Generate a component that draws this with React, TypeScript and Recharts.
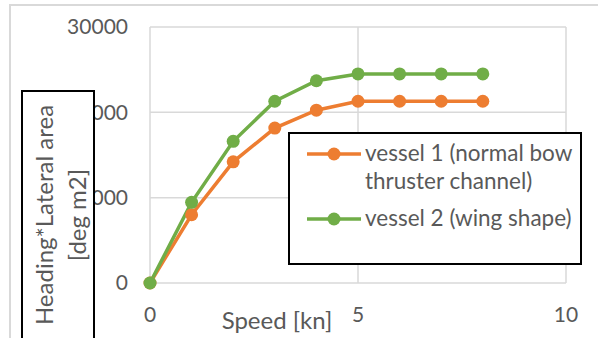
import React from 'react';
import { LineChart, Line, XAxis, YAxis, CartesianGrid, Legend } from 'recharts';

const speeds = [0, 1, 2, 3, 4, 5, 6, 7, 8];
const vessel1 = [0, 8000, 14200, 18150, 20250, 21300, 21300, 21300, 21300];
const vessel2 = [0, 9450, 16600, 21300, 23700, 24500, 24500, 24500, 24500];
const xTicks = [0, 5, 10];
const yTicks = [0, 10000, 20000, 30000];
const seriesNames = ['vessel 1 (normal bow', 'thruster channel)', 'vessel 2 (wing shape)'];
const xLabel = 'Speed [kn]';
const yLabelLines = ['Heading*Lateral area', '[deg m2]'];

const ORANGE = '#ED7D31';
const GREEN = '#70AD47';
const TEXT = '#595959';
const FONT = 'Lato, "Open Sans", sans-serif';

const data = speeds.map((s, i) => ({ speed: s, v1: vessel1[i], v2: vessel2[i] }));

const Marker = ({ color }: { color: string }) => (
  <svg width={56} height={16} style={{ display: 'block' }}>
    <line x1={1} y1={8} x2={55} y2={8} stroke={color} strokeWidth={3.5} />
    <circle cx={28} cy={8} r={6.5} fill={color} />
  </svg>
);

const LegendBox = () => (
  <div
    style={{
      position: 'relative',
      width: 294,
      height: 133,
      boxSizing: 'border-box',
      border: '2px solid #000',
      background: '#fff',
      fontFamily: FONT,
      fontSize: 22.5,
      color: TEXT,
    }}
  >
    <div style={{ position: 'absolute', left: 16, top: 12 }}>
      <Marker color={ORANGE} />
    </div>
    <div style={{ position: 'absolute', left: 75, top: 5, lineHeight: '28px', whiteSpace: 'nowrap' }}>
      {seriesNames[0]}
      <br />
      {seriesNames[1]}
    </div>
    <div style={{ position: 'absolute', left: 16, top: 77 }}>
      <Marker color={GREEN} />
    </div>
    <div style={{ position: 'absolute', left: 75, top: 70, lineHeight: '28px', whiteSpace: 'nowrap' }}>
      {seriesNames[2]}
    </div>
  </div>
);

export default function App() {
  return (
    <div style={{ position: 'absolute', left: 0, top: 0, width: 598, height: 338, overflow: 'hidden', background: '#fff', fontFamily: FONT }}>
      <div
        style={{
          position: 'absolute',
          left: 9,
          top: 4,
          width: 700,
          height: 500,
          border: '2px solid #D9D9D9',
        }}
      />
      <div style={{ position: 'absolute', left: 0, top: 0 }}>
        <LineChart width={598} height={338} data={data} margin={{ top: 27, right: 32, bottom: 25, left: 0 }}>
          <CartesianGrid stroke="#D9D9D9" strokeWidth={1.5} />
          <XAxis
            dataKey="speed"
            type="number"
            domain={[0, 10]}
            ticks={xTicks}
            axisLine={false}
            tickLine={false}
            tickSize={0}
            tickMargin={24}
            height={30}
            tick={{ fill: TEXT, fontSize: 21, fontFamily: FONT }}
          />
          <YAxis
            type="number"
            domain={[0, 30000]}
            ticks={yTicks}
            axisLine={false}
            tickLine={false}
            tickSize={0}
            tickMargin={22}
            width={150}
            tick={{ fill: TEXT, fontSize: 21, fontFamily: FONT }}
          />
          <Line type="linear" dataKey="v1" name="vessel 1 (normal bow thruster channel)" stroke={ORANGE} strokeWidth={3.5}
            dot={{ r: 6.5, fill: ORANGE, stroke: ORANGE, strokeWidth: 0 }} isAnimationActive={false} />
          <Line type="linear" dataKey="v2" name="vessel 2 (wing shape)" stroke={GREEN} strokeWidth={3.5}
            dot={{ r: 6.5, fill: GREEN, stroke: GREEN, strokeWidth: 0 }} isAnimationActive={false} />
          <Legend
            layout="horizontal"
            verticalAlign="middle"
            align="center"
            wrapperStyle={{ left: 288, top: 132, width: 294, height: 133 }}
            content={() => <LegendBox />}
          />
        </LineChart>
      </div>
      <div
        style={{
          position: 'absolute',
          left: 150,
          top: 305,
          width: 254,
          textAlign: 'center',
          fontSize: 24,
          color: TEXT,
          lineHeight: '30px',
          whiteSpace: 'nowrap',
        }}
      >
        {xLabel}
      </div>
      <div
        style={{
          position: 'absolute',
          left: 21,
          top: 90,
          width: 74,
          height: 300,
          boxSizing: 'border-box',
          border: '2px solid #000',
          background: '#fff',
        }}
      />
      {yLabelLines.map((t, i) => (
        <div
          key={i}
          style={{
            position: 'absolute',
            left: (i === 0 ? 44 : 77) - 150,
            top: 215 - 15,
            width: 300,
            height: 30,
            lineHeight: '30px',
            textAlign: 'center',
            fontSize: 24,
            color: TEXT,
            whiteSpace: 'nowrap',
            transform: 'rotate(-90deg)',
          }}
        >
          {t}
        </div>
      ))}
    </div>
  );
}
